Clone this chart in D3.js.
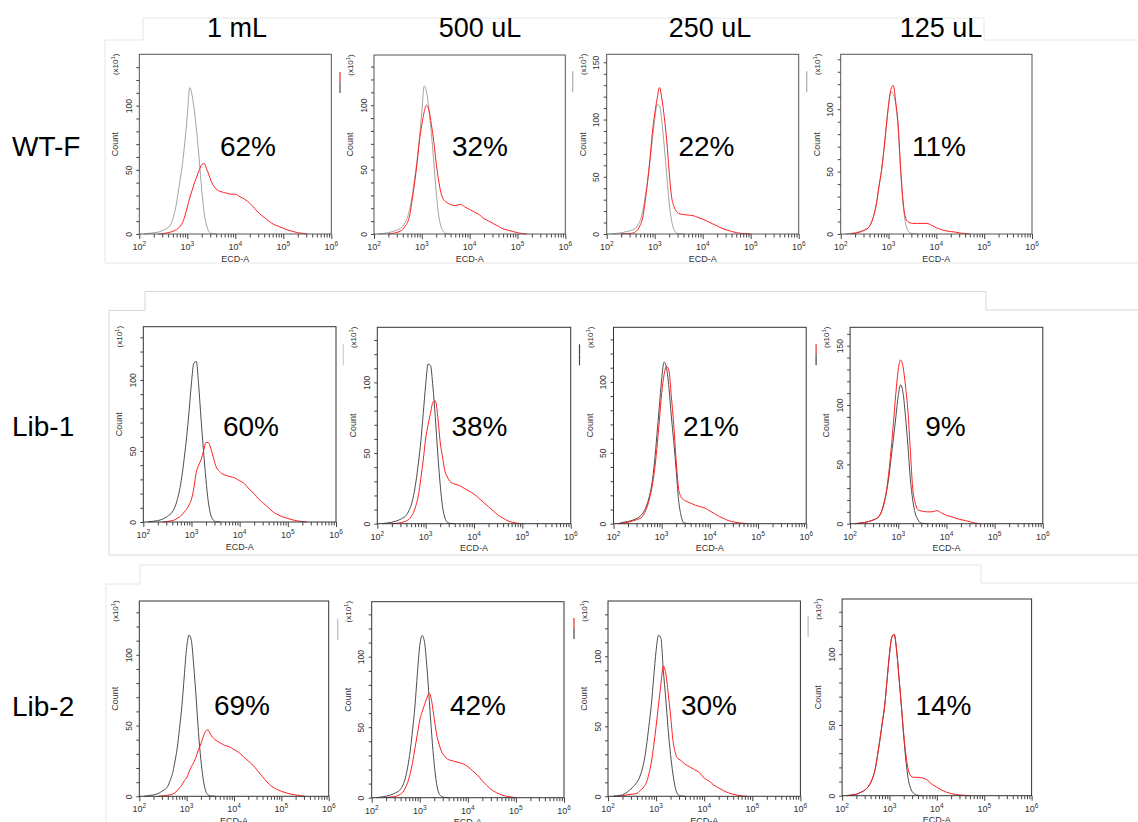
<!DOCTYPE html>
<html>
<head>
<meta charset="utf-8">
<script src="https://cdn.jsdelivr.net/npm/d3@7"></script>
<style>
body { margin: 0; background: #fff; }
svg { display: block; font-family: "Liberation Sans", Arial, sans-serif; }
</style>
</head>
<body>
<svg id="fig" width="1138" height="822"></svg>
<script>
// ---- dades ----
const columnes = ["1 mL", "500 uL", "250 uL", "125 uL"];
const files = ["WT-F", "Lib-1", "Lib-2"];
const percents = [
	["62%", "32%", "22%", "11%"],
	["60%", "38%", "21%", "9%"],
	["69%", "42%", "30%", "14%"]
];

// log10(ECD-A) of each histogram point (finer around the main peak)
const binsLog = [2.0, 2.1, 2.2, 2.3, 2.4, 2.5, 2.6,
	2.65, 2.7, 2.75, 2.8, 2.85, 2.9, 2.95, 3.0, 3.05, 3.1, 3.15, 3.2, 3.25, 3.3, 3.35, 3.4, 3.45, 3.5,
	3.6, 3.7, 3.8, 3.9, 4.0, 4.1, 4.2, 4.3, 4.4, 4.5, 4.6, 4.7, 4.8, 4.9, 5.0, 5.1, 5.2, 5.3, 5.4, 5.5, 5.6];

const N = null;
// counts (x10) — control (gray/black) and stained (red)
const wt_1mL_ctrl = [N, 0, 0.5, 1, 1.5, 3, 5,
	7, 12, 19, 30, 42, 55, 72, 92, 114, 108, 95, 78, 57, 35, 17, 7, 2, 0.5,
	0, N, N, N, N, N, N, N, N, N, N, N, N, N, N, N, N, N, N, N, N];
const wt_1mL_red = [N, N, N, N, 0, 0.3, 1,
	1.5, 2, 3, 4, 6, 9, 14, 21, 28, 34, 40, 45, 50, 54, 55, 51, 46, 41,
	35, 33, 32, 31, 31, 29, 27, 24, 20, 16, 13, 10, 7.5, 6, 4.5, 3, 2, 1, 0.5, 0, N];
const wt_500_ctrl = [N, 0, 0.5, 1, 2, 3.5, 6,
	9, 13, 20, 30, 43, 57, 75, 95, 115, 110, 96, 78, 56, 33, 15, 6, 2, 0.5,
	0, N, N, N, N, N, N, N, N, N, N, N, N, N, N, N, N, N, N, N, N];
const wt_500_red = [N, N, N, 0, 0.5, 1.5, 3.5,
	6, 9, 15, 27, 40, 55, 72, 85, 95, 100, 96, 85, 72, 55, 42, 32, 27, 25,
	23, 22, 23, 21, 19, 17, 15, 12, 10, 8, 6, 4, 3, 2, 1, 0.3, 0, N, N, N, N];
const wt_250_ctrl = [N, 0, 0.5, 1, 2, 3, 5,
	8, 12, 20, 32, 46, 63, 82, 100, 113, 112, 98, 76, 52, 28, 12, 4, 1, 0.3,
	0, N, N, N, N, N, N, N, N, N, N, N, N, N, N, N, N, N, N, N, N];
const wt_250_red = [N, N, N, 0, 0.3, 0.5, 2,
	4, 8, 14, 28, 45, 65, 88, 105, 118, 128, 118, 102, 82, 55, 33, 24, 20, 18,
	17, 16.5, 16, 14.5, 13, 11, 9, 7, 5, 3.5, 2.3, 1.2, 0.5, 0.2, 0, N, N, N, N, N, N];
const wt_125_ctrl = [N, 0, 0.5, 1, 2, 3.5, 6,
	10, 16, 25, 38, 50, 66, 85, 103, 114, 112, 104, 85, 52, 25, 10, 3, 1, 0.3,
	0, N, N, N, N, N, N, N, N, N, N, N, N, N, N, N, N, N, N, N, N];
const wt_125_red = [N, N, 0, 0.5, 1.5, 3, 6,
	10, 16, 25, 38, 50, 66, 85, 103, 116, 119, 106, 88, 55, 28, 14, 10, 9, 8.5,
	8.5, 8.5, 8.5, 7, 5, 3.5, 2.5, 2, 1.5, 0.8, 0.3, 0, N, N, N, N, N, N, N, N, N];

const lib1_1mL_ctrl = [N, 0, 0.5, 1, 2, 4, 7,
	10, 15, 22, 32, 45, 60, 78, 98, 112, 113, 96, 72, 50, 30, 14, 5, 1.5, 0.3,
	0, N, N, N, N, N, N, N, N, N, N, N, N, N, N, N, N, N, N, N, N];
const lib1_1mL_red = [N, N, N, N, 0, 0.3, 1,
	1.5, 2.5, 3.5, 5, 7, 9, 12, 16, 24, 35, 40, 44, 50, 56, 56, 52, 46, 40,
	35, 33, 32, 31, 29, 27, 23, 20, 16, 13, 10, 7, 5, 3.5, 2.5, 1.5, 0.8, 0.3, 0, N, N];
const lib1_500_ctrl = [N, 0, 0.5, 1, 2, 3.5, 6,
	9, 13, 20, 30, 43, 58, 78, 98, 113, 112, 97, 75, 50, 28, 12, 4, 1, 0.3,
	0, N, N, N, N, N, N, N, N, N, N, N, N, N, N, N, N, N, N, N, N];
const lib1_500_red = [N, N, N, 0, 0.3, 0.8, 2,
	3, 5, 8, 13, 20, 32, 45, 60, 70, 78, 86, 87, 76, 58, 47, 37, 33, 30,
	28, 27, 25, 23, 21, 18, 15, 12, 9, 6, 4, 2, 1, 0.3, 0, N, N, N, N, N, N];
const lib1_250_ctrl = [N, 0, 1, 1.5, 2.5, 4, 7,
	10, 14, 20, 29, 43, 62, 82, 102, 114, 110, 96, 76, 58, 38, 17, 6, 1, 0.3,
	0, N, N, N, N, N, N, N, N, N, N, N, N, N, N, N, N, N, N, N, N];
const lib1_250_red = [N, 0, 0.5, 1, 2, 3, 5,
	8, 12, 18, 26, 37, 53, 72, 92, 105, 111, 108, 90, 70, 45, 25, 19, 17, 16,
	14.5, 13, 12, 11, 9, 7, 5, 3.5, 2, 1.2, 0.6, 0.3, 0, N, N, N, N, N, N, N, N];
const lib1_125_ctrl = [N, 0, 0.5, 1, 2, 3.5, 6,
	10, 17, 26, 38, 55, 72, 90, 108, 117, 110, 90, 66, 38, 20, 9, 4, 1, 0.3,
	0, N, N, N, N, N, N, N, N, N, N, N, N, N, N, N, N, N, N, N, N];
const lib1_125_red = [N, 0, 0.5, 1, 2, 3.5, 6.5,
	10, 16, 26, 42, 62, 85, 110, 130, 138, 132, 116, 95, 62, 30, 18, 12, 11, 10.5,
	10, 10, 11, 9, 7, 6, 4.5, 3.5, 2.5, 1.5, 0.5, 0, N, N, N, N, N, N, N, N, N];

const lib2_1mL_ctrl = [N, 0, 0.5, 1, 2, 4, 7,
	11, 16, 24, 34, 48, 64, 85, 105, 114, 110, 92, 70, 45, 26, 12, 4, 1, 0.3,
	0, N, N, N, N, N, N, N, N, N, N, N, N, N, N, N, N, N, N, N, N];
const lib2_1mL_red = [N, N, N, N, 0, 0.3, 0.7,
	1, 1.5, 2.5, 4, 6, 8, 11, 13, 17, 21, 24, 28, 33, 37, 42, 46, 47, 44,
	40, 38, 36, 35, 33, 31, 28, 25, 22, 18, 14, 10, 7, 5, 3.5, 2.5, 1.5, 1, 0.5, 0, N];
const lib2_500_ctrl = [N, 0, 0.5, 1, 2, 3.5, 6,
	9, 14, 22, 33, 48, 65, 88, 108, 115, 110, 92, 68, 44, 24, 10, 3, 1, 0.3,
	0, N, N, N, N, N, N, N, N, N, N, N, N, N, N, N, N, N, N, N, N];
const lib2_500_red = [N, N, N, 0, 0.5, 1, 2.5,
	4, 7, 11, 17, 25, 35, 45, 55, 61, 66, 71, 74, 68, 56, 45, 38, 33, 30,
	27, 26, 25, 24, 22, 19, 16, 12, 8.5, 5.5, 3.5, 2, 1, 0.5, 0, N, N, N, N, N, N];
const lib2_250_ctrl = [N, 0, 0.5, 1, 3, 6, 10,
	13, 18, 25, 36, 50, 65, 85, 104, 115, 113, 90, 70, 48, 30, 16, 6, 1.5, 0.3,
	0, N, N, N, N, N, N, N, N, N, N, N, N, N, N, N, N, N, N, N, N];
const lib2_250_red = [N, N, 0, 0.5, 1, 1.5, 2,
	3.5, 5, 7, 10, 16, 24, 36, 50, 65, 80, 93, 88, 74, 58, 40, 31, 27, 26,
	23, 21, 19, 17, 13, 11, 8, 6, 4, 2.5, 1.5, 0.7, 0.2, 0, N, N, N, N, N, N, N];
const lib2_125_ctrl = [N, 0, 0.5, 1, 2.5, 4.5, 9,
	13, 19, 29, 40, 52, 64, 82, 100, 112, 114, 103, 84, 64, 42, 24, 11, 5, 2,
	0.3, 0, N, N, N, N, N, N, N, N, N, N, N, N, N, N, N, N, N, N, N];
const lib2_125_red = [N, 0, 0.5, 1, 2.5, 4.5, 9,
	13, 19, 29, 40, 52, 64, 82, 100, 112, 114, 103, 84, 64, 44, 28, 18, 14, 13,
	13, 12.5, 11, 8, 6, 4, 2.5, 1.5, 0.8, 0.5, 0.2, 0, N, N, N, N, N, N, N, N, N];

// y-axis top of each panel (x10 counts)
const yMax = [[140, 139, 157, 144], [137.5, 139, 138.5, 165.5], [138, 139, 139.5, 139]];

// ---- maquetació ----
const taula = [
	[[wt_1mL_ctrl, wt_1mL_red], [wt_500_ctrl, wt_500_red], [wt_250_ctrl, wt_250_red], [wt_125_ctrl, wt_125_red]],
	[[lib1_1mL_ctrl, lib1_1mL_red], [lib1_500_ctrl, lib1_500_red], [lib1_250_ctrl, lib1_250_red], [lib1_125_ctrl, lib1_125_red]],
	[[lib2_1mL_ctrl, lib2_1mL_red], [lib2_500_ctrl, lib2_500_red], [lib2_250_ctrl, lib2_250_red], [lib2_125_ctrl, lib2_125_red]]
];
// plot frames [left, top, right, bottom]
const marcs = [
	[[139.3, 54.3, 331.3, 234], [374, 55, 565.3, 234], [606.7, 54.3, 798.7, 234], [840.7, 54.3, 1032, 234]],
	[[143.3, 326.7, 336, 522], [377.3, 327.3, 570.7, 523.7], [613.5, 327.3, 806.2, 523.7], [850.1, 327.3, 1042.8, 523.7]],
	[[139.3, 601, 328.7, 796.3], [371.7, 601.7, 564, 797.7], [608, 601, 800.4, 796.3], [842.1, 599, 1031.6, 795.7]]
];
const posPct = [
	[[248, 156], [480, 156], [706.5, 156], [939, 156]],
	[[251, 435.5], [479.5, 435.5], [711, 435.5], [945.5, 435.5]],
	[[242, 714.5], [478, 714.5], [709, 714.5], [943.5, 714.5]]
];
const capX = [237, 480, 710, 941];
const filaY = [156, 436, 716];
const colCtrl = ["#a3a3a3", "#4d4d4d", "#4d4d4d"];
const colVermell = "#ff1f1f";
// little legend marks next to "(x10^1)": [top colour, bottom colour]
const marques = [
	[null, ["#e0302a", "#555"], ["#aaa", "#aaa"], ["#aaa", "#aaa"]],
	[null, ["#ccc", "#ccc"], ["#444", "#444"], ["#e0302a", "#444"]],
	[null, ["#bbb", "#bbb"], ["#e0302a", "#444"], ["#bbb", "#bbb"]]
];

const svg = d3.select('#fig');

// faint edges of the pasted screenshots
const vores = [
	"M105,263V40H143V18H984V40H1138M105,263H1138",
	"M109,555V310.5H145V291.5H986V310H1138M109,555H1138",
	"M106,822V584H140V565H981V583H1138"
];
svg.selectAll('path.vora').data(vores).join('path')
	.attr('class', 'vora')
	.attr('d', d => d)
	.attr('fill', 'none')
	.attr('stroke', (d, i) => i === 1 ? '#d6d6d6' : '#e6e6e6')
	.attr('stroke-width', 1);

// column headers
svg.selectAll('text.cap').data(columnes).join('text')
	.attr('class', 'cap')
	.attr('x', (d, i) => capX[i])
	.attr('y', 37)
	.attr('text-anchor', 'middle')
	.attr('font-size', 27)
	.text(d => d);

// row labels
svg.selectAll('text.fila').data(files).join('text')
	.attr('class', 'fila')
	.attr('x', 12)
	.attr('y', (d, i) => filaY[i])
	.attr('font-size', 28)
	.text(d => d);

const textCol = '#333';

files.forEach((fila, r) => {
	columnes.forEach((col, c) => {
		const [x0, y0, x1, y1] = marcs[r][c];
		const x = d3.scaleLog().domain([1e2, 1e6]).range([x0, x1]);
		const y = d3.scaleLinear().domain([0, yMax[r][c]]).range([y1, y0]);
		const g = svg.append('g');

		// histogram curves
		const [ctrl, vermell] = taula[r][c];
		const linia = d3.line()
			.defined(d => d[1] !== null)
			.x(d => x(Math.pow(10, d[0])))
			.y(d => y(d[1]))
			.curve(d3.curveMonotoneX);
		[[ctrl, colCtrl[r]], [vermell, colVermell]].forEach(([sèrie, color]) => {
			g.append('path')
				.datum(binsLog.map((b, i) => [b, sèrie[i]]))
				.attr('d', linia)
				.attr('fill', 'none')
				.attr('stroke', color)
				.attr('stroke-width', 1);
		});

		// frame
		g.append('rect')
			.attr('x', x0).attr('y', y0)
			.attr('width', x1 - x0).attr('height', y1 - y0)
			.attr('fill', 'none')
			.attr('stroke', r === 0 ? '#555' : '#333')
			.attr('stroke-width', 1);

		// y axis
		const yAx = d3.axisLeft(y)
			.tickValues(d3.range(0, yMax[r][c] - 3, 10))
			.tickSize(3)
			.tickFormat(d => d % 50 === 0 ? d : '');
		const ya = g.append('g').attr('transform', `translate(${x0},0)`).call(yAx);
		ya.select('.domain').remove();
		ya.selectAll('line').attr('stroke', '#444');
		ya.selectAll('text')
			.attr('x', null).attr('dy', null)
			.attr('transform', 'translate(-7.5,0) rotate(-90)')
			.attr('text-anchor', 'middle')
			.attr('font-family', null)
			.attr('font-size', 8.5)
			.attr('fill', textCol);

		g.append('text')
			.attr('transform', `translate(${x0 - 21},${(y0 + y1) / 2}) rotate(-90)`)
			.attr('text-anchor', 'middle')
			.attr('font-size', 9)
			.attr('fill', textCol)
			.text('Count');
		const escala = g.append('text')
			.attr('transform', `translate(${x0 - 21},${y0 + 10}) rotate(-90)`)
			.attr('text-anchor', 'middle')
			.attr('font-size', 8)
			.attr('fill', textCol);
		escala.append('tspan').text('(x10');
		escala.append('tspan').attr('dy', -3).attr('font-size', 6).text('1');
		escala.append('tspan').attr('dy', 3).text(')');

		const m = marques[r][c];
		if (m) {
			g.append('line').attr('x1', x0 - 34).attr('x2', x0 - 34)
				.attr('y1', y0 + 17).attr('y2', y0 + 27).attr('stroke', m[0]).attr('stroke-width', 1.2);
			g.append('line').attr('x1', x0 - 34).attr('x2', x0 - 34)
				.attr('y1', y0 + 27).attr('y2', y0 + 38).attr('stroke', m[1]).attr('stroke-width', 1.2);
		}

		// x axis (log, minor ticks)
		const xTicks = x.ticks();
		const majors = xTicks.filter(d => Number.isInteger(Math.log10(d)));
		const xAx = d3.axisBottom(x).tickValues(xTicks).tickSize(3).tickFormat('');
		const xa = g.append('g').attr('transform', `translate(0,${y1})`).call(xAx);
		xa.select('.domain').remove();
		xa.selectAll('line')
			.attr('stroke', '#444')
			.attr('y2', d => majors.includes(d) ? 5 : 3.5);
		majors.forEach(d => {
			const t = g.append('text')
				.attr('x', x(d))
				.attr('y', y1 + 16)
				.attr('text-anchor', 'middle')
				.attr('font-size', 9)
				.attr('fill', textCol);
			t.append('tspan').text('10');
			t.append('tspan').attr('dy', -4).attr('font-size', 6.5).text(Math.round(Math.log10(d)));
		});
		g.append('text')
			.attr('x', (x0 + x1) / 2)
			.attr('y', y1 + 27.5)
			.attr('text-anchor', 'middle')
			.attr('font-size', 9)
			.attr('fill', textCol)
			.text('ECD-A');

		// percentage of positive cells
		g.append('text')
			.attr('x', posPct[r][c][0])
			.attr('y', posPct[r][c][1])
			.attr('text-anchor', 'middle')
			.attr('font-size', 28)
			.text(percents[r][c]);
	});
});
</script>
</body>
</html>
